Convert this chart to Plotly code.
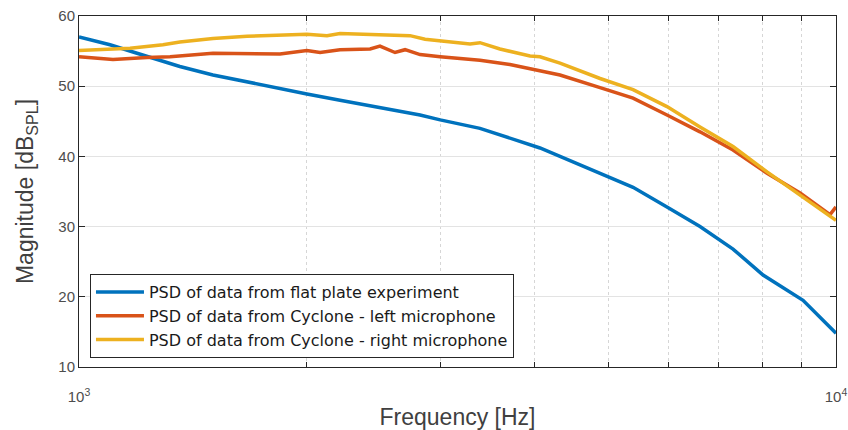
import plotly.graph_objects as go

freq_flat = [1000, 1099, 1193, 1359, 1503, 1667, 1843, 2000, 2212, 2498, 2822, 3000, 3386, 4064, 4319, 4879, 5394, 5980, 6612, 7311, 8010, 9046, 10000]
mag_flat = [57.0, 55.9, 54.7, 52.8, 51.6, 50.6, 49.7, 48.9, 48.0, 47.0, 45.9, 45.2, 44.0, 41.2, 40.0, 37.6, 35.6, 32.8, 30.0, 26.8, 23.1, 19.5, 14.8]

freq_left = [1000, 1109, 1230, 1319, 1503, 1682, 1843, 2000, 2082, 2212, 2424, 2498, 2615, 2696, 2822, 3000, 3386, 3709, 3943, 4319, 4879, 5394, 5980, 6612, 7311, 8108, 8965, 9820, 10000]
mag_left = [54.2, 53.8, 54.1, 54.2, 54.7, 54.7, 54.6, 55.1, 54.8, 55.2, 55.3, 55.7, 54.8, 55.2, 54.5, 54.2, 53.7, 53.1, 52.5, 51.6, 49.8, 48.3, 45.9, 43.5, 40.9, 37.6, 34.8, 31.7, 32.8]

freq_right = [1000, 1168, 1291, 1359, 1503, 1667, 2000, 2126, 2212, 2351, 2498, 2737, 2865, 3000, 3285, 3386, 3598, 3943, 4064, 4319, 4879, 5394, 5980, 6612, 7311, 8108, 8965, 10000]
mag_right = [55.1, 55.4, 55.9, 56.3, 56.8, 57.1, 57.4, 57.2, 57.5, 57.4, 57.4, 57.2, 56.7, 56.5, 56.0, 56.2, 55.3, 54.3, 54.2, 53.3, 51.1, 49.5, 47.1, 44.2, 41.4, 37.8, 34.5, 30.9]

names = ["PSD of data from flat plate experiment",
         "PSD of data from Cyclone - left microphone",
         "PSD of data from Cyclone - right microphone"]
colors = ["#0072BD", "#D95319", "#EDB120"]

x_tickvals = [1000, 10000]
x_ticktext = ["10<sup>3</sup>", "10<sup>4</sup>"]
x_minor = [2000, 3000, 4000, 5000, 6000, 7000, 8000, 9000]
y_tickvals = [10, 20, 30, 40, 50, 60]

fig = go.Figure()
for fx, fy, n, c in zip([freq_flat, freq_left, freq_right], [mag_flat, mag_left, mag_right], names, colors):
    fig.add_trace(go.Scatter(x=fx, y=fy, mode="lines", name=n,
                             line=dict(color=c, width=3.5)))

axis_col = "#262626"
tick_col = "#4d4d4d"
fig.update_layout(
    width=848, height=430,
    margin=dict(l=79, r=12, t=16, b=63),
    paper_bgcolor="white", plot_bgcolor="white",
    font=dict(family="Liberation Sans, Arial, sans-serif", color=tick_col),
    showlegend=True,
    legend=dict(x=0.0145, y=0.265, xanchor="left", yanchor="top",
                bgcolor="white", bordercolor=axis_col, borderwidth=1,
                font=dict(family="DejaVu Sans, sans-serif", size=16, color="#1a1a1a"),
                tracegroupgap=0, itemwidth=48),
    xaxis=dict(type="log", range=[3, 4], automargin=False,
               tickvals=x_tickvals, ticktext=x_ticktext,
               tickfont=dict(size=15, color=tick_col), ticklabelstandoff=16,
               ticks="inside", ticklen=6, tickcolor=axis_col,
               showline=True, linecolor=axis_col, linewidth=1, mirror="ticks",
               showgrid=False, zeroline=False,
               minor=dict(tickvals=x_minor, ticks="inside", ticklen=5,
                          tickcolor=axis_col, showgrid=True,
                          gridcolor="#d6d6d6", griddash="dot", gridwidth=1),
               title=dict(text="Frequency [Hz]", font=dict(size=23, color="#404040"), standoff=10)),
    yaxis=dict(range=[10, 60], tickvals=y_tickvals, automargin=False,
               tickfont=dict(size=15, color=tick_col),
               ticks="inside", ticklen=6, tickcolor=axis_col,
               showline=True, linecolor=axis_col, linewidth=1, mirror="ticks",
               showgrid=True, gridcolor="#e3e3e3", gridwidth=1, zeroline=False,
               title=dict(text="Magnitude [dB<sub>SPL</sub>]", font=dict(size=23, color="#404040"), standoff=18)),
)

fig.write_html("out.html")
